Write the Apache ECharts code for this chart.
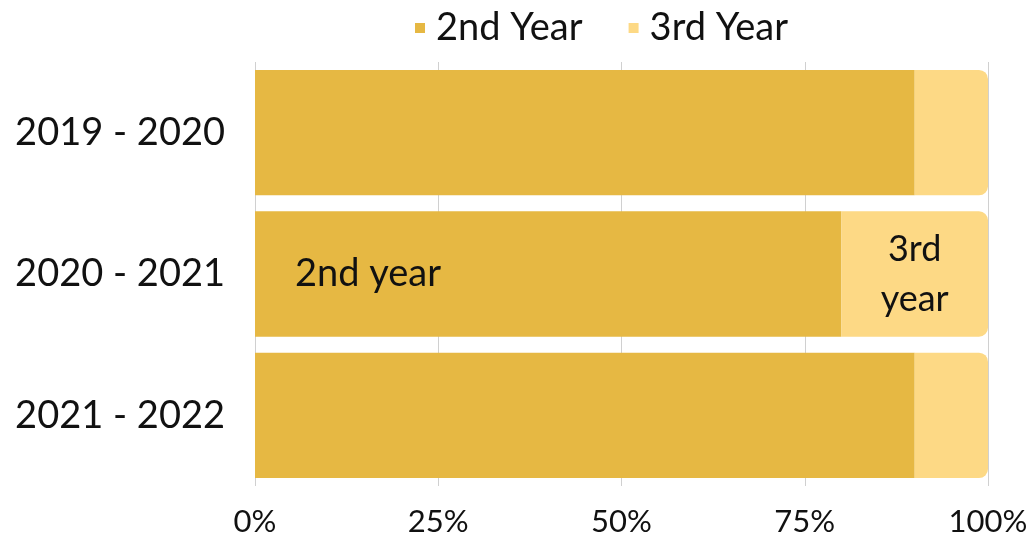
<!DOCTYPE html>
<html>
<head>
<meta charset="utf-8">
<script src="https://cdn.jsdelivr.net/npm/echarts@6/dist/echarts.min.js"></script>
<style>
  html, body { margin: 0; padding: 0; background: #fff; }
  #chart { width: 1032px; height: 544px; }
</style>
</head>
<body>
<div id="chart"></div>
<script>
const categories = ["2019 - 2020", "2020 - 2021", "2021 - 2022"];
const secondYear = [90, 80, 90];
const thirdYear = [10, 20, 10];
const xTicks = [0, 25, 50, 75, 100];
const labelRow = 1; // only the middle bar carries in-bar labels

const font = "Lato";
const chart = echarts.init(document.getElementById("chart"));

chart.setOption({
	animation: false,
	textStyle: { fontFamily: font },
	legend: {
		top: 4,
		left: 410,
		icon: "rect",
		itemWidth: 10,
		itemHeight: 10,
		itemGap: 46,
		textStyle: {
			fontSize: 38,
			color: "#111",
			fontFamily: font,
			padding: [0, 0, 0, 6],
		},
		data: ["2nd Year", "3rd Year"],
	},
	grid: { left: 255, right: 44, top: 62, bottom: 58 },
	xAxis: {
		type: "value",
		min: 0,
		max: 100,
		interval: 25,
		axisLine: { show: false },
		axisTick: { show: false },
		splitLine: { show: true, lineStyle: { color: "#d0d0d0", width: 1 } },
		axisLabel: {
			margin: 20,
			fontSize: 31,
			color: "#111",
			fontFamily: font,
			formatter: (v) => (xTicks.includes(v) ? v + "%" : ""),
		},
	},
	yAxis: {
		type: "category",
		inverse: true,
		data: categories,
		axisLine: { show: false },
		axisTick: { show: false },
		axisLabel: { margin: 30, fontSize: 38, color: "#111", fontFamily: font },
	},
	series: [
		{
			name: "2nd Year",
			type: "bar",
			stack: "total",
			barCategoryGap: "11.3%",
			itemStyle: { color: "#E6B843" },
			data: secondYear.map((v, i) => ({
				value: v,
				label: {
					show: i === labelRow,
					position: "insideLeft",
					distance: 40,
					formatter: "2nd year",
					fontSize: 38,
					color: "#111",
					fontFamily: font,
				},
			})),
		},
		{
			name: "3rd Year",
			type: "bar",
			stack: "total",
			itemStyle: { color: "#FDD985", borderRadius: [0, 9, 9, 0] },
			data: thirdYear.map((v, i) => ({
				value: v,
				label: {
					show: i === labelRow,
					position: "inside",
					formatter: "3rd\nyear",
					fontSize: 36,
					lineHeight: 50,
					color: "#111",
					fontFamily: font,
				},
			})),
		},
	],
});
</script>
</body>
</html>
